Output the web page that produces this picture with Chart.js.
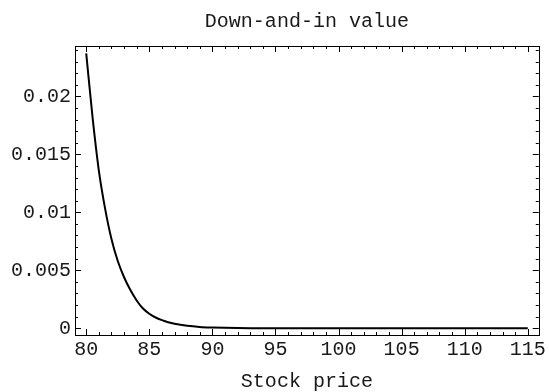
<!DOCTYPE html>
<html><head><meta charset="utf-8">
<script src="https://cdn.jsdelivr.net/npm/chart.js@4/dist/chart.umd.min.js"></script>
<style>html,body{margin:0;padding:0;background:#fff;}#wrap{width:549px;height:392px;}</style>
</head><body><div id="wrap"><canvas id="c" width="549" height="392"></canvas></div>
<script>
// ---- data ----
const stockPrice = [80, 80.5, 81, 81.5, 82, 82.5, 83, 83.5, 84, 84.5, 85, 85.5, 86, 86.5, 87, 88, 89, 90, 91, 92, 93, 94, 95, 96, 97, 98, 99, 100, 101, 102, 103, 104, 105, 106, 107, 108, 109, 110, 111, 112, 113, 114, 115];
const downAndInValue = [0.0237, 0.0182, 0.0136, 0.0103, 0.0077, 0.0058, 0.0044, 0.0033, 0.0024, 0.0017, 0.00125, 0.00093, 0.0007, 0.00052, 0.00039, 0.00022, 0.00012, 0.00007, 0.00004, 0.00002, 0.00001, 0.000005, 0, 0, 0, 0, 0, 0, 0, 0, 0, 0, 0, 0, 0, 0, 0, 0, 0, 0, 0, 0, 0];
const xTickValues = [80, 85, 90, 95, 100, 105, 110, 115];
const xTickLabels = ['80', '85', '90', '95', '100', '105', '110', '115'];
const yTickValues = [0, 0.005, 0.01, 0.015, 0.02];
const yTickLabels = ['0', '0.005', '0.01', '0.015', '0.02'];
const xMinorStep = 1;
const yMinorStep = 0.001;
const chartTitle = 'Down-and-in value';
const xAxisTitle = 'Stock price';

const FONT = "'Liberation Mono', 'Courier New', monospace";
const TXT = '#1a1a1a';

const framePlugin = {
  id: 'frameTicks',
  afterDatasetsDraw(chart) {
    const {ctx, chartArea: a, scales: {x, y}} = chart;
    ctx.save();
    // title centred over the plot frame
    ctx.fillStyle = TXT;
    ctx.font = "20px " + FONT;
    ctx.textAlign = 'center';
    ctx.textBaseline = 'middle';
    ctx.fillText(chartTitle, (a.left + a.right) / 2, 22);
    // frame
    ctx.strokeStyle = '#000';
    ctx.lineWidth = 1;
    ctx.strokeRect(Math.round(a.left) + 0.5, Math.round(a.top) + 0.5, Math.round(a.right - a.left), Math.round(a.bottom - a.top));
    const MAJ = 6, MIN = 3;
    ctx.beginPath();
    const xk0 = Math.ceil(x.min / xMinorStep), xk1 = Math.floor(x.max / xMinorStep);
    for (let k = xk0; k <= xk1; k++) {
      const v = k * xMinorStep;
      const isMaj = xTickValues.some(t => Math.abs(t - v) < 1e-9);
      const len = isMaj ? MAJ : MIN;
      const px = Math.round(x.getPixelForValue(v)) + 0.5;
      ctx.moveTo(px, a.bottom); ctx.lineTo(px, a.bottom - len);
      ctx.moveTo(px, a.top); ctx.lineTo(px, a.top + len);
    }
    const yk0 = Math.ceil(y.min / yMinorStep - 1e-9), yk1 = Math.floor(y.max / yMinorStep + 1e-9);
    for (let k = yk0; k <= yk1; k++) {
      const v = k * yMinorStep;
      const isMaj = yTickValues.some(t => Math.abs(t - v) < 1e-12);
      const len = isMaj ? MAJ : MIN;
      const py = Math.round(y.getPixelForValue(v)) + 0.5;
      ctx.moveTo(a.left, py); ctx.lineTo(a.left + len, py);
      ctx.moveTo(a.right, py); ctx.lineTo(a.right - len, py);
    }
    ctx.stroke();
    ctx.restore();
  }
};

new Chart(document.getElementById('c'), {
  type: 'line',
  data: {
    datasets: [{
      data: stockPrice.map((s, i) => ({x: s, y: downAndInValue[i]})),
      borderColor: '#000',
      borderWidth: 2,
      pointRadius: 0,
      fill: false,
      cubicInterpolationMode: 'monotone'
    }]
  },
  options: {
    responsive: false,
    animation: false,
    devicePixelRatio: 1,
    layout: {padding: {left: 0, right: 9, top: 46, bottom: 0}},
    plugins: {
      legend: {display: false},
      tooltip: {enabled: false},
      title: {display: false}
    },
    scales: {
      x: {
        type: 'linear', min: 79.11, max: 115.87,
        afterBuildTicks: s => { s.ticks = xTickValues.map(v => ({value: v})); },
        afterFit: s => { s.height = 57; },
        ticks: {
          callback: (v, i) => xTickLabels[i],
          padding: 3, maxRotation: 0, autoSkip: false,
          color: TXT, font: {family: FONT, size: 20}
        },
        grid: {display: false, drawTicks: false, tickLength: 0},
        border: {display: false},
        title: {
          display: true, text: xAxisTitle, color: TXT,
          font: {family: FONT, size: 20, lineHeight: 1},
          padding: {top: 0, bottom: 0}
        }
      },
      y: {
        type: 'linear', min: -0.00058, max: 0.02434,
        afterBuildTicks: s => { s.ticks = yTickValues.map(v => ({value: v})); },
        afterFit: s => { s.width = 75; },
        ticks: {
          callback: (v, i) => yTickLabels[i],
          padding: 4, autoSkip: false,
          color: TXT, font: {family: FONT, size: 20}
        },
        grid: {display: false, drawTicks: false, tickLength: 0},
        border: {display: false}
      }
    }
  },
  plugins: [framePlugin]
});
</script></body></html>
